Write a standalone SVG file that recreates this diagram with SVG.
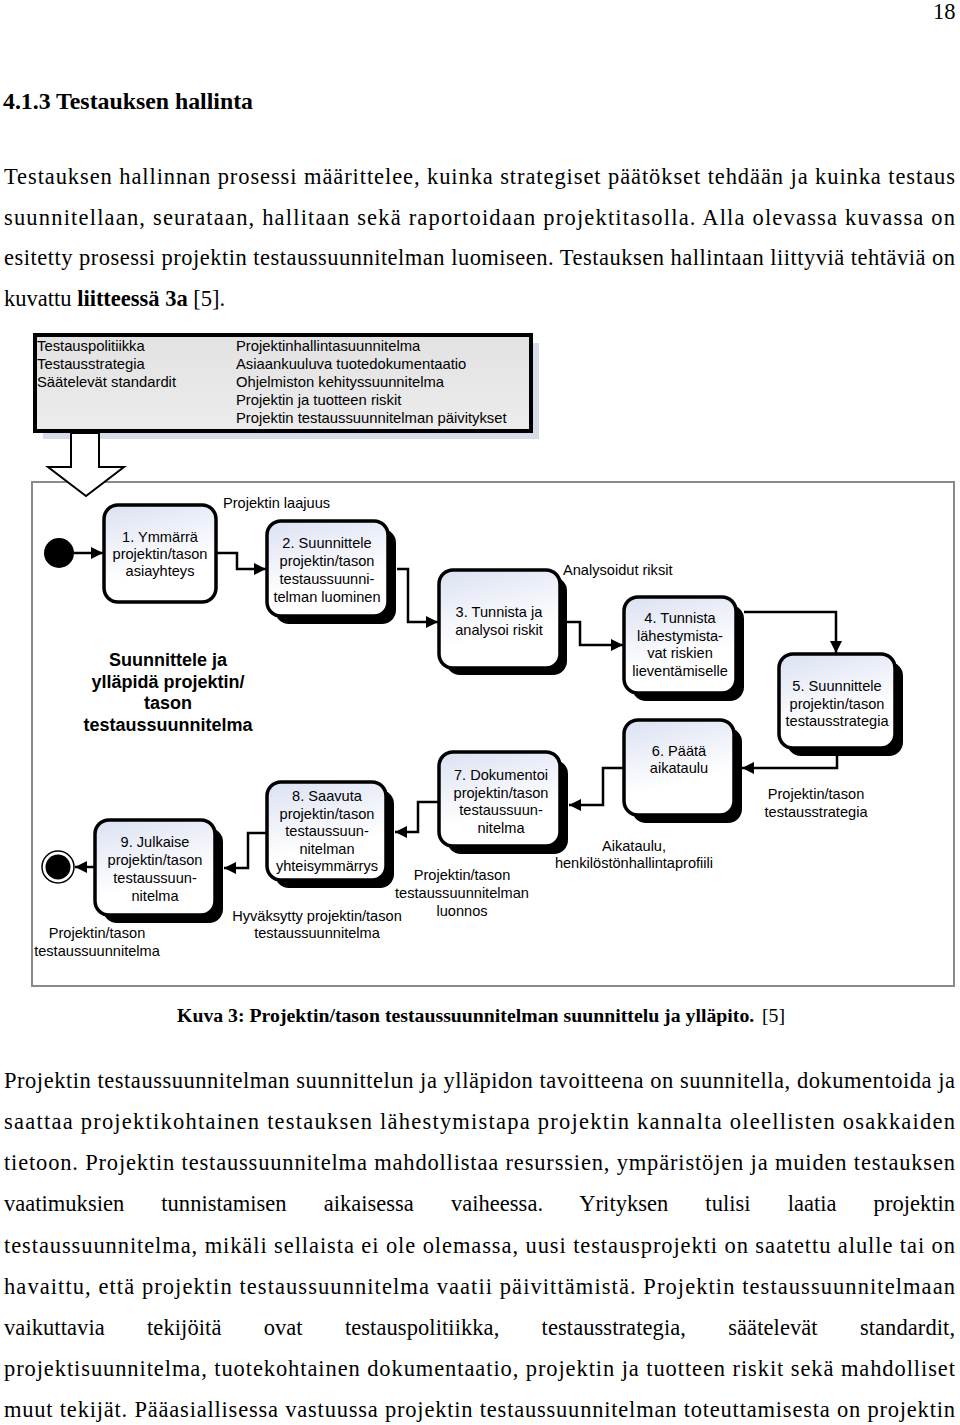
<svg xmlns="http://www.w3.org/2000/svg" width="960" height="1425" viewBox="0 0 960 1425">
<style>
.body{font-family:"Liberation Serif","Times New Roman",serif;font-size:22.5px;fill:#000}
.b{font-weight:bold}
.cap{font-size:19.8px}
.h{font-size:23.5px}
.sans{font-family:"Liberation Sans",Arial,sans-serif;font-size:14.6px;fill:#000}
.big{font-size:14.8px}
.ct{text-anchor:middle}
.title{font-family:"Liberation Sans",Arial,sans-serif;font-size:18px;font-weight:bold;text-anchor:middle;fill:#000}
.node{fill:url(#ng);stroke:#000;stroke-width:3.5}
.shadow{fill:#000}
.conn{fill:none;stroke:#000;stroke-width:2.5;marker-end:url(#ah)}
</style>
<defs>
<linearGradient id="ng" x1="0" y1="0" x2="0.3" y2="1">
<stop offset="0" stop-color="#dbe1f2"/>
<stop offset="0.75" stop-color="#ffffff"/>
</linearGradient>
<linearGradient id="bg" x1="0" y1="0" x2="0" y2="1">
<stop offset="0" stop-color="#e2e2e2"/>
<stop offset="1" stop-color="#ececec"/>
</linearGradient>
<marker id="ah" viewBox="0 0 12 12" refX="12" refY="6" markerWidth="12" markerHeight="12" markerUnits="userSpaceOnUse" orient="auto">
<path d="M0,0 L12,6 L0,12 z" fill="#000"/>
</marker>
</defs>

<rect width="960" height="1425" fill="#fff"/>

<!-- page text -->
<text class="body" x="933" y="19">18</text>
<text class="body b h" x="3" y="109" textLength="250" lengthAdjust="spacingAndGlyphs">4.1.3 Testauksen hallinta</text>
<text class="body" x="4" y="184" textLength="951" lengthAdjust="spacing">Testauksen hallinnan prosessi määrittelee, kuinka strategiset päätökset tehdään ja kuinka testaus</text>
<text class="body" x="4" y="225" textLength="951" lengthAdjust="spacing">suunnitellaan, seurataan, hallitaan sekä raportoidaan projektitasolla. Alla olevassa kuvassa on</text>
<text class="body" x="4" y="265" textLength="951" lengthAdjust="spacing">esitetty prosessi projektin testaussuunnitelman luomiseen. Testauksen hallintaan liittyviä tehtäviä on</text>
<text class="body" x="4" y="306">kuvattu <tspan class="b">liitteessä 3a</tspan> [5].</text>

<!-- top input box -->
<g id="inputs">
<rect x="43" y="343" width="496" height="96" fill="#d6dbe8"/>
<rect x="35" y="335" width="496" height="96" fill="url(#bg)" stroke="#000" stroke-width="4"/>
<text class="sans big" x="37" y="351">Testauspolitiikka</text>
<text class="sans big" x="37" y="369">Testausstrategia</text>
<text class="sans big" x="37" y="387">Säätelevät standardit</text>
<text class="sans big" x="236" y="351">Projektinhallintasuunnitelma</text>
<text class="sans big" x="236" y="369">Asiaankuuluva tuotedokumentaatio</text>
<text class="sans big" x="236" y="387">Ohjelmiston kehityssuunnitelma</text>
<text class="sans big" x="236" y="405">Projektin ja tuotteen riskit</text>
<text class="sans big" x="236" y="423">Projektin testaussuunnitelman päivitykset</text>
</g>

<!-- frame -->
<g id="frame">
<rect x="32" y="482" width="922" height="504" fill="none" stroke="#8a8a8a" stroke-width="2"/>
<text class="title" x="168" y="666">Suunnittele ja</text>
<text class="title" x="168" y="688">ylläpidä projektin/</text>
<text class="title" x="168" y="709">tason</text>
<text class="title" x="168" y="731">testaussuunnitelma</text>
</g>

<!-- hollow input arrow -->
<g id="input-arrow">
<polygon points="71,433 99,433 99,467 124,467 86,496 48,467 71,467" fill="#fff" stroke="#000" stroke-width="2"/>
</g>

<!-- start / end -->
<g id="start"><circle cx="59" cy="553" r="15" fill="#000"/></g>
<g id="end"><circle cx="58" cy="867" r="16" fill="#fff" stroke="#000" stroke-width="1.5"/><circle cx="58" cy="867" r="12.5" fill="#000"/></g>

<!-- nodes -->
<g id="n1">
<rect class="node" x="104" y="505" width="112" height="97" rx="14"/>
<text class="sans ct" x="160" y="542">1. Ymmärrä</text>
<text class="sans ct" x="160" y="559">projektin/tason</text>
<text class="sans ct" x="160" y="576">asiayhteys</text>
</g>
<g id="n2">
<rect class="shadow" x="275" y="529" width="121" height="95" rx="14"/>
<rect class="node" x="267" y="521" width="121" height="95" rx="14"/>
<text class="sans ct" x="327" y="548">2. Suunnittele</text>
<text class="sans ct" x="327" y="566">projektin/tason</text>
<text class="sans ct" x="327" y="584">testaussuunni-</text>
<text class="sans ct" x="327" y="602">telman luominen</text>
</g>
<g id="n3">
<rect class="shadow" x="446" y="577" width="121" height="98" rx="14"/>
<rect class="node" x="439" y="570" width="121" height="98" rx="14"/>
<text class="sans ct" x="499" y="617">3. Tunnista ja</text>
<text class="sans ct" x="499" y="635">analysoi riskit</text>
</g>
<g id="n4">
<rect class="shadow" x="632" y="605" width="112" height="96" rx="14"/>
<rect class="node" x="624" y="597" width="112" height="96" rx="14"/>
<text class="sans ct" x="680" y="623">4. Tunnista</text>
<text class="sans ct" x="680" y="641">lähestymista-</text>
<text class="sans ct" x="680" y="658">vat riskien</text>
<text class="sans ct" x="680" y="676">lieventämiselle</text>
</g>
<g id="n5">
<rect class="shadow" x="787" y="662" width="116" height="94" rx="14"/>
<rect class="node" x="779" y="654" width="116" height="94" rx="14"/>
<text class="sans ct" x="837" y="691">5. Suunnittele</text>
<text class="sans ct" x="837" y="709">projektin/tason</text>
<text class="sans ct" x="837" y="726">testausstrategia</text>
</g>
<g id="n6">
<rect class="shadow" x="632" y="728" width="110" height="95" rx="14"/>
<rect class="node" x="624" y="720" width="110" height="95" rx="14"/>
<text class="sans ct" x="679" y="756">6. Päätä</text>
<text class="sans ct" x="679" y="773">aikataulu</text>
</g>
<g id="n7">
<rect class="shadow" x="447" y="760" width="121" height="94" rx="14"/>
<rect class="node" x="439" y="752" width="121" height="94" rx="14"/>
<text class="sans ct" x="501" y="780">7. Dokumentoi</text>
<text class="sans ct" x="501" y="798">projektin/tason</text>
<text class="sans ct" x="501" y="815">testaussuun-</text>
<text class="sans ct" x="501" y="833">nitelma</text>
</g>
<g id="n8">
<rect class="shadow" x="275" y="790" width="119" height="98" rx="14"/>
<rect class="node" x="267" y="782" width="119" height="98" rx="14"/>
<text class="sans ct" x="327" y="801">8. Saavuta</text>
<text class="sans ct" x="327" y="819">projektin/tason</text>
<text class="sans ct" x="327" y="836">testaussuun-</text>
<text class="sans ct" x="327" y="854">nitelman</text>
<text class="sans ct" x="327" y="871">yhteisymmärrys</text>
</g>
<g id="n9">
<rect class="shadow" x="103" y="828" width="120" height="95" rx="14"/>
<rect class="node" x="95" y="820" width="120" height="95" rx="14"/>
<text class="sans ct" x="155" y="847">9. Julkaise</text>
<text class="sans ct" x="155" y="865">projektin/tason</text>
<text class="sans ct" x="155" y="883">testaussuun-</text>
<text class="sans ct" x="155" y="901">nitelma</text>
</g>

<!-- connectors -->
<g id="connectors">
<path class="conn" d="M74,553 H103"/>
<path class="conn" d="M217,553 H237 V569 H266"/>
<path class="conn" d="M397,569 H408 V622 H438"/>
<path class="conn" d="M567,622 H580 V645 H623"/>
<path class="conn" d="M744,612 H836 V653"/>
<path class="conn" d="M837,756 V768 H742"/>
<path class="conn" d="M623,768 H603 V805 H569"/>
<path class="conn" d="M438,802 H418 V832 H395"/>
<path class="conn" d="M266,833 H248 V868 H224"/>
<path class="conn" d="M94,867 H75"/>
</g>

<!-- connector labels -->
<g id="labels">
<text class="sans" x="223" y="508">Projektin laajuus</text>
<text class="sans" x="563" y="575">Analysoidut riksit</text>
<text class="sans ct" x="816" y="799">Projektin/tason</text>
<text class="sans ct" x="816" y="817">testausstrategia</text>
<text class="sans ct" x="634" y="851">Aikataulu,</text>
<text class="sans ct" x="634" y="868">henkilöstönhallintaprofiili</text>
<text class="sans ct" x="462" y="880">Projektin/tason</text>
<text class="sans ct" x="462" y="898">testaussuunnitelman</text>
<text class="sans ct" x="462" y="916">luonnos</text>
<text class="sans ct" x="317" y="921">Hyväksytty projektin/tason</text>
<text class="sans ct" x="317" y="938">testaussuunnitelma</text>
<text class="sans ct" x="97" y="938">Projektin/tason</text>
<text class="sans ct" x="97" y="956">testaussuunnitelma</text>
</g>

<!-- caption -->
<text class="body b cap" x="177" y="1022">Kuva 3: Projektin/tason testaussuunnitelman suunnittelu ja ylläpito.</text>
<text class="body cap" x="762" y="1022">[5]</text>

<!-- bottom paragraph -->
<text class="body" x="4" y="1088" textLength="951" lengthAdjust="spacing">Projektin testaussuunnitelman suunnittelun ja ylläpidon tavoitteena on suunnitella, dokumentoida ja</text>
<text class="body" x="4" y="1129" textLength="951" lengthAdjust="spacing">saattaa projektikohtainen testauksen lähestymistapa projektin kannalta oleellisten osakkaiden</text>
<text class="body" x="4" y="1170" textLength="951" lengthAdjust="spacing">tietoon. Projektin testaussuunnitelma mahdollistaa resurssien, ympäristöjen ja muiden testauksen</text>
<text class="body" x="4" y="1211" word-spacing="31.5" textLength="951" lengthAdjust="spacing">vaatimuksien tunnistamisen aikaisessa vaiheessa. Yrityksen tulisi laatia projektin</text>
<text class="body" x="4" y="1253" textLength="951" lengthAdjust="spacing">testaussuunnitelma, mikäli sellaista ei ole olemassa, uusi testausprojekti on saatettu alulle tai on</text>
<text class="body" x="4" y="1294" textLength="951" lengthAdjust="spacing">havaittu, että projektin testaussuunnitelma vaatii päivittämistä. Projektin testaussuunnitelmaan</text>
<text class="body" x="4" y="1335" word-spacing="36.5" textLength="951" lengthAdjust="spacing">vaikuttavia tekijöitä ovat testauspolitiikka, testausstrategia, säätelevät standardit,</text>
<text class="body" x="4" y="1376" textLength="951" lengthAdjust="spacing">projektisuunnitelma, tuotekohtainen dokumentaatio, projektin ja tuotteen riskit sekä mahdolliset</text>
<text class="body" x="4" y="1417" textLength="951" lengthAdjust="spacing">muut tekijät. Pääasiallisessa vastuussa projektin testaussuunnitelman toteuttamisesta on projektin</text>
</svg>
